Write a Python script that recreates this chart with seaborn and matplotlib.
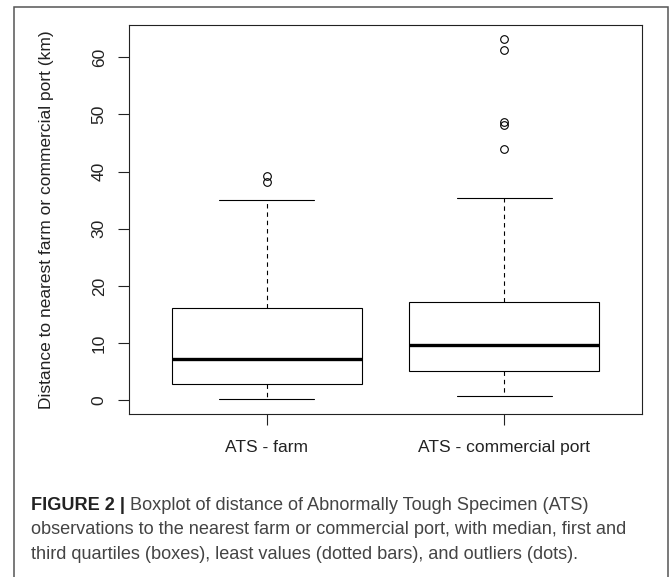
import matplotlib
matplotlib.use("Agg")
import matplotlib.pyplot as plt
import pandas as pd
import seaborn as sns
from matplotlib.patches import Rectangle

# values; quartile values are repeated so the
# computed quartiles land on the box edges shown in the figure
groups = ["ATS - farm", "ATS - commercial port"]
farm_km = [0.2, 2.85, 2.85, 2.85, 7.2, 7.2, 7.2, 16.1, 16.1, 16.1,
           35.1, 38.2, 39.2]
port_km = [0.75, 5.07, 5.07, 5.07, 5.07, 5.07, 5.07,
           9.73, 9.73, 9.73, 9.73, 9.73, 9.73,
           17.2, 17.2, 17.2, 17.2, 17.2, 17.2,
           35.3, 43.9, 48.1, 48.6, 61.2, 63.2]
y_ticks = [0, 10, 20, 30, 40, 50, 60]
y_label = "Distance to nearest farm or commercial port (km)"
caption_bold = "FIGURE 2 |"
caption_lines = [
    " Boxplot of distance of Abnormally Tough Specimen (ATS)",
    "observations to the nearest farm or commercial port, with median, first and",
    "third quartiles (boxes), least values (dotted bars), and outliers (dots).",
]

df = pd.DataFrame({
    "group": [groups[0]] * len(farm_km) + [groups[1]] * len(port_km),
    "distance": farm_km + port_km,
})

sns.set_theme(style="ticks")
plt.rcParams["font.family"] = ["Liberation Sans", "DejaVu Sans"]

W, H = 672, 577
fig = plt.figure(figsize=(W / 100, H / 100), dpi=100)
fig.patch.set_facecolor("white")

# outer panel frame
fig.patches.append(Rectangle((13.5 / W, -0.05), (667.5 - 13.5) / W, 1.05 - 6.7 / H,
                             transform=fig.transFigure, fill=False,
                             edgecolor="#555555", linewidth=1.1))

ax = fig.add_axes([129 / W, 1 - 414 / H, (642 - 129) / W, (414 - 24.7) / H])

sns.boxplot(
    data=df, x="group", y="distance", order=groups, ax=ax,
    color="white", linecolor="black", linewidth=0.8, width=0.8, whis=1.5,
    medianprops=dict(linewidth=2.4, color="black"),
    whiskerprops=dict(linestyle=(0, (4, 3.5))),
    flierprops=dict(marker="o", markersize=5.5, markerfacecolor="none",
                    markeredgecolor="black", markeredgewidth=0.8),
)

ax.set_xlim(-0.58, 1.58)
ax.set_ylim(-2.4, 65.7)
ax.set_yticks(y_ticks)
ax.set_yticklabels([str(t) for t in y_ticks], rotation=90, va="center")
ax.set_xlabel("")
ax.set_ylabel(y_label, fontsize=12.5, color="#222222")
ax.yaxis.set_label_coords(-0.146, 0.5)
ax.tick_params(axis="both", direction="out", length=8, width=0.8,
               colors="#222222", labelsize=12.5)
ax.tick_params(axis="y", pad=8)
ax.tick_params(axis="x", pad=11)
for spine in ax.spines.values():
    spine.set_visible(True)
    spine.set_color("#222222")
    spine.set_linewidth(0.8)

# caption with a bold lead-in
cap_size = 13.1
x0 = 31 / W
baselines = [510, 534.5, 559]
lead = fig.text(x0, 1 - baselines[0] / H, caption_bold, fontsize=cap_size,
                fontweight="bold", color="#222222", va="baseline")
fig.canvas.draw()
bb = lead.get_window_extent()
fig.text(bb.x1 / W, 1 - baselines[0] / H, caption_lines[0], fontsize=cap_size,
         color="#444444", va="baseline")
for line, yb in zip(caption_lines[1:], baselines[1:]):
    fig.text(x0, 1 - yb / H, line, fontsize=cap_size, color="#444444",
             va="baseline")

fig.savefig("out.png", dpi=100)
plt.close(fig)
